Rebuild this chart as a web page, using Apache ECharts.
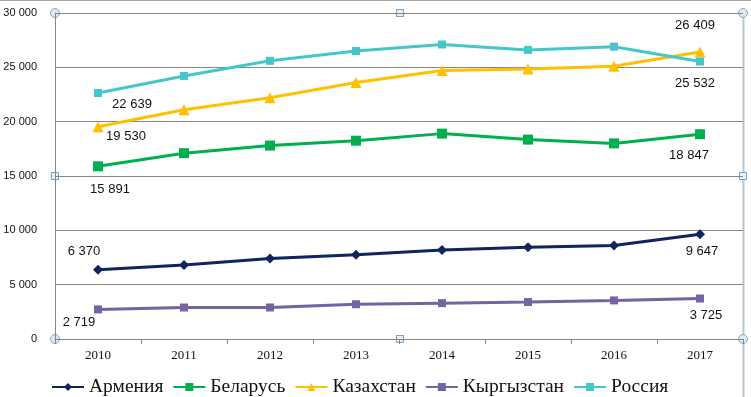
<!DOCTYPE html>
<html>
<head>
<meta charset="utf-8">
<script src="https://cdn.jsdelivr.net/npm/echarts@6/dist/echarts.min.js"></script>
<style>
  html, body { margin: 0; padding: 0; background: #fff; }
  #chart { width: 751px; height: 397px; }
</style>
</head>
<body>
<div id="chart"></div>
<script>
var years = ['2010', '2011', '2012', '2013', '2014', '2015', '2016', '2017']

var armenia = [6370, 6800, 7400, 7750, 8200, 8450, 8600, 9647]
var belarus = [15891, 17100, 17800, 18250, 18900, 18350, 18000, 18847]
var kazakhstan = [19530, 21100, 22200, 23600, 24700, 24850, 25100, 26409]
var kyrgyzstan = [2719, 2900, 2900, 3200, 3300, 3400, 3550, 3725]
var russia = [22639, 24200, 25600, 26500, 27100, 26600, 26900, 25532]

function fmt(v) {
  return String(v).replace(/\B(?=(\d{3})+(?!\d))/g, ' ')
}

// only first and last points carry a value label
function withLabels(values, firstOffset, lastOffset) {
  return values.map(function(v, i) {
    if (i === 0 || i === values.length - 1) {
      return {
        value: v,
        label: {
          show: true,
          position: 'inside',
          offset: i === 0 ? firstOffset : lastOffset,
          formatter: function(p) { return fmt(p.value) },
          fontFamily: 'Liberation Sans, Arial, sans-serif',
          fontSize: 13,
          color: '#111'
        }
      }
    }
    return v
  })
}

function makeSeries(name, values, color, symbol, size, firstOffset, lastOffset) {
  return {
    name: name,
    type: 'line',
    data: withLabels(values, firstOffset, lastOffset),
    symbol: symbol,
    symbolSize: size,
    showAllSymbol: true,
    lineStyle: { color: color, width: 3 },
    itemStyle: { color: color },
    emphasis: { disabled: true },
    animation: false
  }
}

var handleStyle = { fill: '#dfeaf0', stroke: '#8ea6b8', lineWidth: 1 }
var sqStyle = { fill: '#e4f2fa', stroke: '#7f9cb8', lineWidth: 1 }

var chart = echarts.init(document.getElementById('chart'))
chart.setOption({
  backgroundColor: '#fff',
  animation: false,
  grid: { left: 55, right: 8, top: 13, bottom: 58 },
  xAxis: {
    type: 'category',
    data: years,
    boundaryGap: true,
    axisLine: { show: true, lineStyle: { color: '#868686', width: 1 } },
    axisTick: { show: true, length: 5, lineStyle: { color: '#868686' } },
    axisLabel: {
      margin: 10,
      fontFamily: 'Liberation Serif, Times New Roman, serif',
      fontSize: 13,
      color: '#111'
    }
  },
  yAxis: {
    type: 'value',
    min: 0,
    max: 30000,
    interval: 5000,
    axisLine: { show: true, lineStyle: { color: '#868686', width: 1 } },
    axisTick: { show: false },
    splitLine: { show: true, lineStyle: { color: '#868686', width: 1 } },
    axisLabel: {
      margin: 18,
      formatter: function(v) { return fmt(v) },
      fontFamily: 'Liberation Sans, Arial, sans-serif',
      fontSize: 11,
      color: '#111'
    }
  },
  legend: {
    left: 46,
    top: 372,
    itemWidth: 32,
    itemHeight: 10,
    itemGap: 9,
    textStyle: {
      fontFamily: 'Liberation Serif, Times New Roman, serif',
      fontSize: 19.5,
      color: '#111'
    },
    data: ['Армения', 'Беларусь', 'Казахстан', 'Кыргызстан', 'Россия']
  },
  graphic: [
    { type: 'line', shape: { x1: 0, y1: 0.5, x2: 751, y2: 0.5 }, style: { stroke: '#a6a6a6', lineWidth: 1 }, silent: true },
    { type: 'line', shape: { x1: 743.5, y1: 13, x2: 743.5, y2: 397 }, style: { stroke: '#b8c6d0', lineWidth: 2 }, silent: true },
    { type: 'line', shape: { x1: 55, y1: 13.5, x2: 743, y2: 13.5 }, style: { stroke: '#868686', lineWidth: 1 }, silent: true },
    { type: 'circle', shape: { cx: 55, cy: 13, r: 4.5 }, style: handleStyle, silent: true },
    { type: 'circle', shape: { cx: 743, cy: 13, r: 4.5 }, style: handleStyle, silent: true },
    { type: 'circle', shape: { cx: 55, cy: 339, r: 4.5 }, style: handleStyle, silent: true },
    { type: 'circle', shape: { cx: 743, cy: 339, r: 4.5 }, style: handleStyle, silent: true },
    { type: 'rect', shape: { x: 396.5, y: 9.5, width: 7, height: 7 }, style: sqStyle, silent: true },
    { type: 'rect', shape: { x: 396.5, y: 335.5, width: 7, height: 7 }, style: sqStyle, silent: true },
    { type: 'rect', shape: { x: 51.5, y: 172.5, width: 7, height: 7 }, style: sqStyle, silent: true },
    { type: 'rect', shape: { x: 739.5, y: 172.5, width: 7, height: 7 }, style: sqStyle, silent: true }
  ],
  series: [
    makeSeries('Армения', armenia, '#10245e', 'diamond', 10, [-14, -18], [2, 17]),
    makeSeries('Беларусь', belarus, '#00b050', 'rect', 10, [12, 23], [-11, 21]),
    makeSeries('Казахстан', kazakhstan, '#ffc000', 'triangle', 11, [28, 10], [-5, -27]),
    makeSeries('Кыргызстан', kyrgyzstan, '#7563a2', 'rect', 8, [-19, 13], [6, 17]),
    makeSeries('Россия', russia, '#45c6c8', 'rect', 8, [34, 11], [-5, 22])
  ]
})
</script>
</body>
</html>
